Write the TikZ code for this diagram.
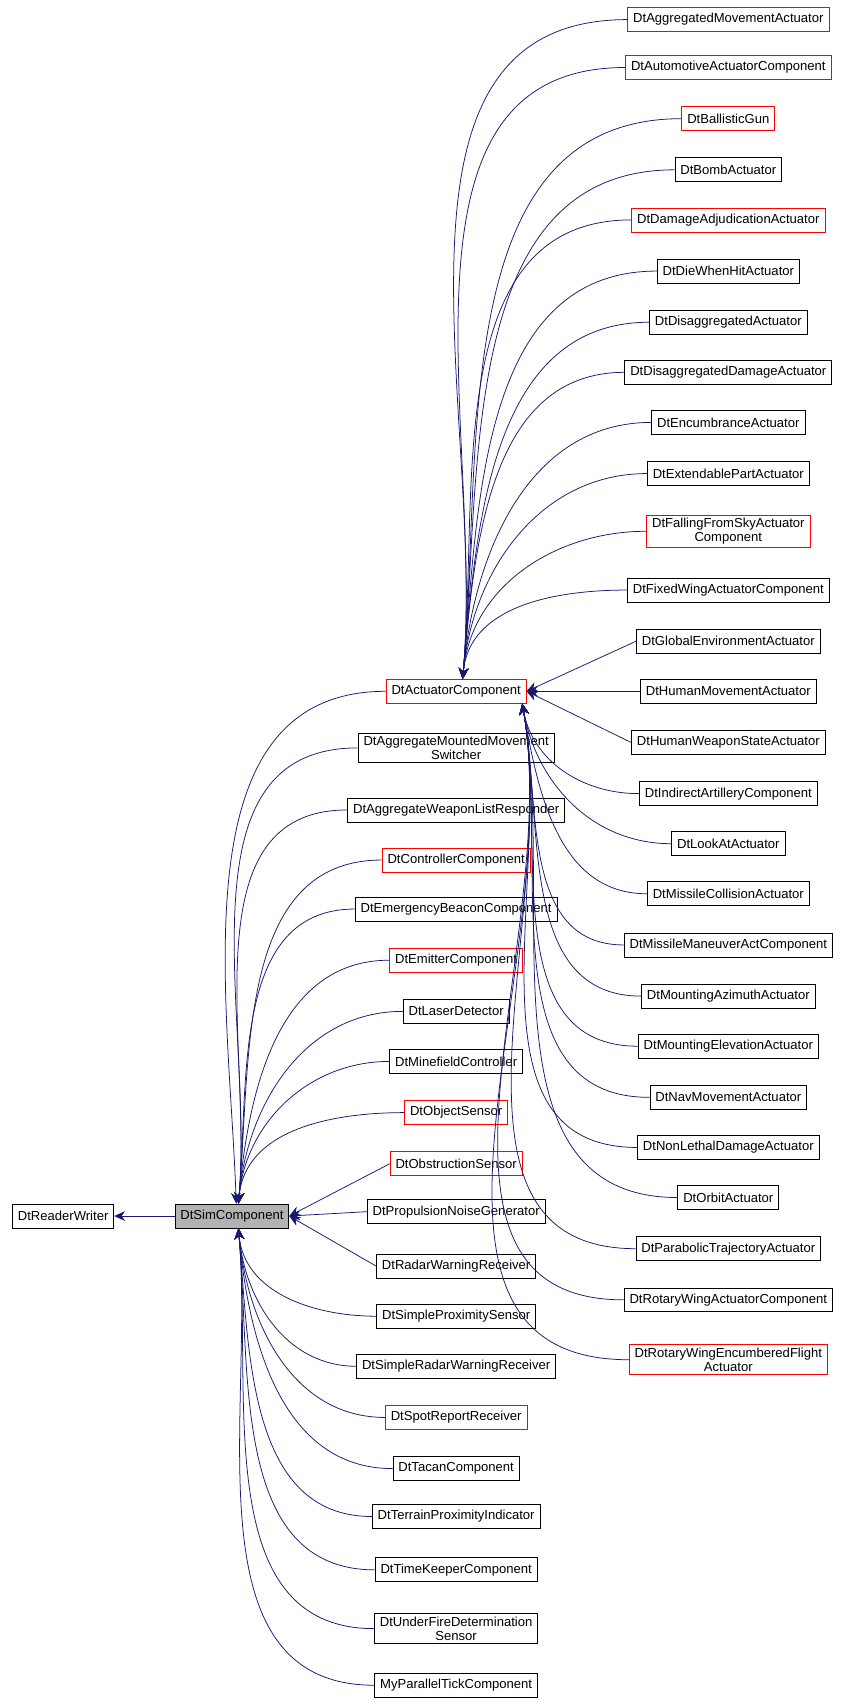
\documentclass[tikz,border=0pt]{standalone}
\usepackage{fontspec}
\setmainfont{Liberation Sans}
\usetikzlibrary{arrows.meta, positioning}
\definecolor{edgeblue}{RGB}{25,25,112}
\tikzset{
  cls/.style={draw=black, fill=white, inner xsep=5pt, inner ysep=3pt, minimum height=22pt,
    align=center, line width=0.7pt, font=\fontsize{12}{12.5}\selectfont},
  clsred/.style={cls, draw=red},
  inh/.style={draw=edgeblue, line width=0.7pt, {Stealth[length=10pt,width=9pt]}-},
}
\begin{document}
\begin{tikzpicture}[x=1pt, y=-1pt]
  \useasboundingbox (0,0) rectangle (776,1568);
  % --- roots ---
  \node[cls, fill=gray!60] (sim) at (213,1117) {DtSimComponent};
  \node[cls] (rw) at (58,1117) {DtReaderWriter};
  \node[clsred] (act) at (419,635) {DtActuatorComponent};
  \draw[inh] (rw.east) -- (sim.west);
  \draw[inh] ([xshift=4pt]sim.north) to[out=92, in=180] (act.west);

  % --- children of DtSimComponent ---
  \foreach \n/\t/\y/\s in {
    s1/{DtAggregateMountedMovement\\Switcher}/687/cls,
    s2/DtAggregateWeaponListResponder/744/cls,
    s3/DtControllerComponent/790/clsred,
    s4/DtEmergencyBeaconComponent/835/cls,
    s5/DtEmitterComponent/882/clsred,
    s6/DtLaserDetector/929/cls,
    s7/DtMinefieldController/975/cls,
    s8/DtObjectSensor/1022/clsred,
    s9/DtObstructionSensor/1069/clsred,
    s10/DtPropulsionNoiseGenerator/1113/cls,
    s11/DtRadarWarningReceiver/1163/cls,
    s12/DtSimpleProximitySensor/1209/cls,
    s13/DtSimpleRadarWarningReceiver/1255/cls,
    s14/DtSpotReportReceiver/1302/clsred,
    s15/DtTacanComponent/1349/cls,
    s16/DtTerrainProximityIndicator/1393/cls,
    s17/DtTimeKeeperComponent/1442/cls,
    s18/{DtUnderFireDetermination\\Sensor}/1496/cls,
    s19/MyParallelTickComponent/1548/cls}{
    \node[\s] (\n) at (419,\y) {\t};
    \pgfmathtruncatemacro{\d}{\y-1117}
    \ifnum\d<-60
      \draw[inh] ([xshift=6pt]sim.north) to[out=85, in=180] (\n.west);
    \else\ifnum\d>60
      \draw[inh] ([xshift=6pt]sim.south) to[out=-85, in=180] (\n.west);
    \else
      \draw[inh] (sim.east) -- (\n.west);
    \fi\fi
  }

  % --- children of DtActuatorComponent ---
  \foreach \n/\t/\y/\s in {
    a1/DtAggregatedMovementActuator/18/clsred,
    a2/DtAutomotiveActuatorComponent/62/clsred,
    a3/DtBallisticGun/109/clsred,
    a4/DtBombActuator/156/cls,
    a5/DtDamageAdjudicationActuator/202/clsred,
    a6/DtDieWhenHitActuator/249/cls,
    a7/DtDisaggregatedActuator/296/cls,
    a8/DtDisaggregatedDamageActuator/342/cls,
    a9/DtEncumbranceActuator/388/cls,
    a10/DtExtendablePartActuator/435/cls,
    a11/{DtFallingFromSkyActuator\\Component}/488/clsred,
    a12/DtFixedWingActuatorComponent/542/cls,
    a13/DtGlobalEnvironmentActuator/589/cls,
    a14/DtHumanMovementActuator/635/cls,
    a15/DtHumanWeaponStateActuator/682/cls,
    a16/DtIndirectArtilleryComponent/729/cls,
    a17/DtLookAtActuator/775/cls,
    a18/DtMissileCollisionActuator/821/cls,
    a19/DtMissileManeuverActComponent/868/cls,
    a20/DtMountingAzimuthActuator/915/cls,
    a21/DtMountingElevationActuator/961/cls,
    a22/DtNavMovementActuator/1008/cls,
    a23/DtNonLethalDamageActuator/1054/cls,
    a24/DtOrbitActuator/1100/cls,
    a25/DtParabolicTrajectoryActuator/1147/cls,
    a26/DtRotaryWingActuatorComponent/1194/cls,
    a27/{DtRotaryWingEncumberedFlight\\Actuator}/1249/clsred}{
    \node[\s] (\n) at (669,\y) {\t};
    \pgfmathtruncatemacro{\d}{\y-635}
    \ifnum\d<-60
      \draw[inh] ([xshift=6pt]act.north) to[out=85, in=180] (\n.west);
    \else\ifnum\d>60
      \draw[inh] ([xshift=-4pt]act.south east) to[out=-80, in=180] (\n.west);
    \else
      \draw[inh] (act.east) -- (\n.west);
    \fi\fi
  }
\end{tikzpicture}
\end{document}
